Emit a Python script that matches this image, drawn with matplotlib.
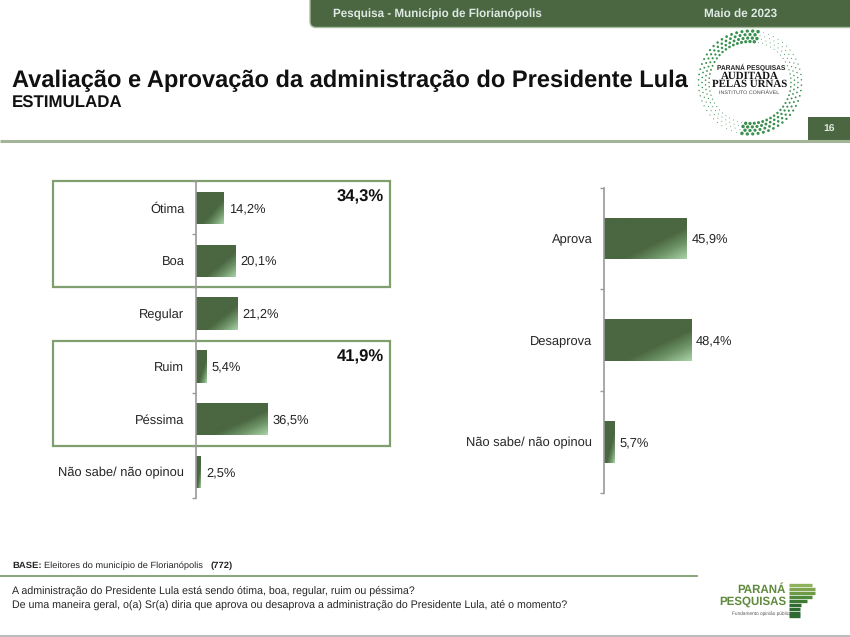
import numpy as np
import matplotlib
matplotlib.use("Agg")
import matplotlib.pyplot as plt
from matplotlib.colors import LinearSegmentedColormap
from matplotlib.patches import FancyBboxPatch, Rectangle

plt.rcParams['font.family'] = ['Liberation Sans', 'DejaVu Sans']
plt.rcParams['text.hinting'] = 'no_hinting'

W, H = 850, 637
DARK = "#4a6741"
BOX = "#7f9f6f"
TXT = "#262626"
HEAD_TXT = "#dfe9e4"

avaliacao_labels = ["Ótima", "Boa", "Regular", "Ruim", "Péssima", "Não sabe/ não opinou"]
avaliacao_values = [14.2, 20.1, 21.2, 5.4, 36.5, 2.5]
aprovacao_labels = ["Aprova", "Desaprova", "Não sabe/ não opinou"]
aprovacao_values = [45.9, 48.4, 5.7]
soma_positiva = "34,3%"
soma_negativa = "41,9%"

cmap = LinearSegmentedColormap.from_list(
    "barra", [(0, DARK), (0.62, DARK), (0.8, "#6f9468"), (1, "#a8d4a8")])


def pct(v):
    return f"{v:.1f}%".replace(".", ",")


def px_axes(fig, left, top, right, bottom):
    return fig.add_axes([left / W, 1 - bottom / H, (right - left) / W, (bottom - top) / H])


def grad_bars(ax, labels, values, height, label_size, pad):
    y = np.arange(len(labels))
    bars = ax.barh(y, values, height=height, color=DARK)
    xlim, ylim = ax.get_xlim(), ax.get_ylim()
    for b in bars:
        # bar gets a diagonal fade towards its lower right corner
        yy, xx = np.mgrid[0:1:60j, 0:1:120j]
        img = ax.imshow((xx + yy) / 2, cmap=cmap, vmin=0, vmax=1, aspect="auto",
                        extent=(b.get_x(), b.get_x() + b.get_width(),
                                b.get_y() + b.get_height(), b.get_y()),
                        zorder=2, interpolation="bilinear")
        img.set_clip_path(b)
    ax.set_xlim(xlim)
    ax.set_ylim(ylim)
    for i, v in enumerate(values):
        ax.annotate(pct(v), (v, i), xytext=(pad, -0.5), textcoords="offset points",
                    va="center", ha="left", fontsize=label_size, color=TXT)
    ax.set_yticks(y, labels, fontsize=label_size, color=TXT)
    ax.set_yticks(np.arange(len(labels) + 1) - 0.5, minor=True)
    ax.tick_params(axis="y", which="major", length=0, pad=8)
    ax.tick_params(axis="y", which="minor", length=3, color="#9a9a9a", width=1)
    ax.set_xticks([])
    for s in ["top", "right", "bottom"]:
        ax.spines[s].set_visible(False)
    ax.spines["left"].set_color("#9a9a9a")
    ax.spines["left"].set_linewidth(1.2)
    ax.patch.set_alpha(0)


fig = plt.figure(figsize=(W / 100, H / 100), dpi=100, facecolor="white")

# page furniture is laid out in pixel coordinates of the slide
page = fig.add_axes([0, 0, 1, 1])
page.set_xlim(0, W)
page.set_ylim(H, 0)
page.axis("off")

page.add_patch(FancyBboxPatch((310, -12), 570, 39.5, boxstyle="round,pad=0,rounding_size=6",
                              fc=DARK, ec="#a9bd9f", lw=1))
page.text(333, 14, "Pesquisa - Município de Florianópolis", color=HEAD_TXT, fontsize=8.4,
          fontweight="bold", va="center")
page.text(704, 14, "Maio de 2023", color=HEAD_TXT, fontsize=8.5, fontweight="bold", va="center")

page.text(12, 80.5, "Avaliação e Aprovação da administração do Presidente Lula", fontsize=17.05,
          fontweight="bold", color="#111111", va="center")
page.text(12, 103.5, "ESTIMULADA", fontsize=12.2, fontweight="bold", color="#111111", va="center")

page.plot([0, W], [140.5, 140.5], color="#a3b596", lw=2.2, solid_capstyle="butt")
page.add_patch(Rectangle((808, 117), 42, 23, fc=DARK, ec="none"))
page.text(829, 129.5, "16", color=HEAD_TXT, fontsize=7.5, fontweight="bold", ha="center", va="center")

# seal: rings of dots, each half turn starts heavy and fades going round
cx, cy = 750, 82.5
for k, r in enumerate([41, 44.5, 48, 51.5]):
    deg = np.arange(0, 360, 6.0) + k * 3
    fade = 1 - ((deg - 80) % 180) / 180
    sizes = 0.4 + 6 * fade ** 2.4
    page.scatter(cx + r * np.cos(np.radians(deg)), cy - r * np.sin(np.radians(deg)), s=sizes,
                 color="#2f8a45", alpha=0.95, linewidths=0)
page.text(751.5, 67, "PARANÁ PESQUISAS", fontsize=4.8, fontweight="bold", ha="center", va="center",
          color="#222222")
page.text(750, 76, "AUDITADA", fontsize=7.8, fontweight="bold", family="Liberation Serif",
          ha="center", va="center", color="#111111")
page.text(750, 84.5, "PELAS URNAS", fontsize=7.8, fontweight="bold", family="Liberation Serif",
          ha="center", va="center", color="#111111")
page.text(749, 92.5, "INSTITUTO CONFIÁVEL", fontsize=3.9, ha="center", va="center", color="#444444")

# green boxes around the grouped answers
for top, bottom in [(181, 287), (341, 446)]:
    page.add_patch(Rectangle((53.5, top), 337, bottom - top, fc="none", ec=BOX, lw=1.6, zorder=3))

ax1 = px_axes(fig, 195.5, 181.5, 395, 498.5)
ax1.set_xlim(0, (395 - 195.5) / 1.96)
ax1.set_ylim(5.5, -0.5)
grad_bars(ax1, avaliacao_labels, avaliacao_values, 0.61, 9.3, 4)

ax2 = px_axes(fig, 603.5, 187.7, 780, 492.7)
ax2.set_xlim(0, (780 - 603.5) / 1.80)
ax2.set_ylim(2.5, -0.5)
grad_bars(ax2, aprovacao_labels, aprovacao_values, 0.41, 9.3, 4)

page.text(384, 197, soma_positiva, fontsize=12, fontweight="bold", ha="right", va="center",
          color="#111111", zorder=5)
page.text(384, 357, soma_negativa, fontsize=12, fontweight="bold", ha="right", va="center",
          color="#111111", zorder=5)

page.text(12, 565.5, "BASE:", fontsize=6.8, fontweight="bold", color=TXT, va="center")
page.text(44, 565.5, "Eleitores do município de Florianópolis", fontsize=6.7, color=TXT, va="center")
page.text(211, 565.5, "(772)", fontsize=6.8, fontweight="bold", color=TXT, ha="left", va="center")
page.plot([0, 697], [575.5, 575.5], color="#7f9f6f", lw=1.3)
page.text(12, 591, "A administração do Presidente Lula está sendo ótima, boa, regular, ruim ou péssima?",
          fontsize=7.7, color=TXT, va="center")
page.text(12, 605, "De uma maneira geral, o(a) Sr(a) diria que aprova ou desaprova a administração do Presidente Lula, até o momento?",
          fontsize=7.7, color=TXT, va="center")
page.plot([0, W], [636, 636], color="#bdbdbd", lw=1.5)

# Paraná Pesquisas logo
page.text(786, 589.5, "PARANÁ", fontsize=8.3, fontweight="bold", color="#5f8a3c", ha="right", va="center")
page.text(786, 601.5, "PESQUISAS", fontsize=8.3, fontweight="bold", color="#5f8a3c", ha="right", va="center")
for yy, x1, c in [(585, 812, "#8db35a"), (589, 815, "#7fa64f"), (593, 815, "#6f9a45"),
                  (597, 812, "#4f8a3a"), (601, 807, "#3f7a35"), (605, 801, "#2f6a30"),
                  (609, 800, "#2f6a30"), (613, 800, "#2f6a30"), (616, 800, "#2f6a30")]:
    page.plot([789, x1], [yy, yy], color=c, lw=2.4, solid_capstyle="butt")
page.text(762, 613.5, "Fundamento opinião pública", fontsize=3.4, color="#555555", ha="center", va="center")

fig.savefig("out.png", dpi=100)
